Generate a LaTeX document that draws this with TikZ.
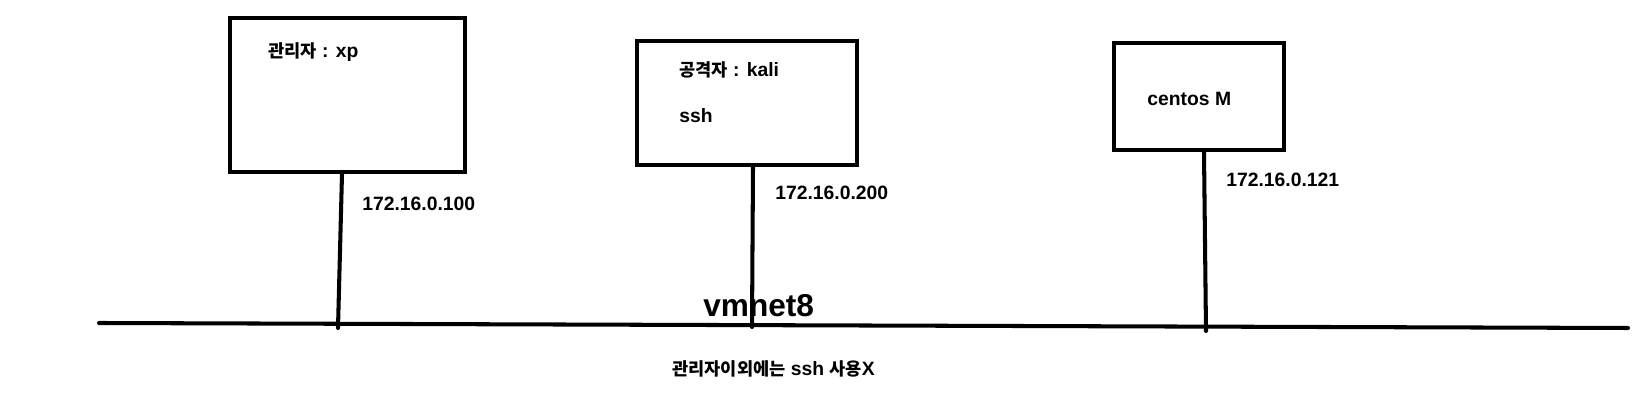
\documentclass[tikz,border=0pt]{standalone}
\usepackage{fontspec}
\setmainfont{Liberation Sans}
\newfontfamily\kr{Noto Sans CJK KR}
\usetikzlibrary{calc}
\newcommand{\K}[1]{{\kr\fontsize{10}{12}\selectfont #1}}

\begin{document}
\begin{tikzpicture}[x=0.02cm, y=-0.02cm, font=\bfseries\fontsize{11}{13}\selectfont,
	pc/.style={draw, line width=2.3pt, inner sep=0pt},
	wire/.style={line width=2.3pt, line cap=round},
	lbl/.style={anchor=base west, inner sep=0pt}]
	\useasboundingbox (0,0) rectangle (1644,404);
	\node[pc, minimum width=4.7cm, minimum height=3.08cm] (1) at (347.5,95) {};
	\node[pc, minimum width=4.4cm, minimum height=2.48cm] (2) at (747,103) {};
	\node[pc, minimum width=3.4cm, minimum height=2.14cm] (3) at (1199,96.5) {};
	
	\coordinate (l) at (99,323);
	\coordinate (r) at (1628,328);
	\coordinate (a) at (338,328);
	\coordinate (b) at (752,327);
	\coordinate (c) at (1206,331);
	
	\node[lbl] (1a) at (268,58) {\K{관리자} : xp};
	\node[lbl] (1b) at (362,211) {172.16.0.100};
	\node[lbl] (2a) at (679,77) {\K{공격자} : kali};
	\node[lbl] (2b) at (679,123) {ssh};
	\node[lbl] (2c) at (775,200) {172.16.0.200};
	\node[lbl] (3a) at (1147,106) {centos M};
	\node[lbl] (3b) at (1226,187) {172.16.0.121};
	\node[lbl, font=\bfseries\fontsize{18}{20}\selectfont] (n) at (703,317) {vmnet8};
	\node[lbl] (m) at (672,376) {\K{관리자이외에는} ssh \K{사용}X};
	
	\draw[wire] (l) -- (r);
	\draw[wire] (1.south -| 342,0) -- (a);
	\draw[wire] (2.south -| 753,0) -- (b);
	\draw[wire] (3.south -| 1204,0) -- (c);
\end{tikzpicture}
\end{document}
